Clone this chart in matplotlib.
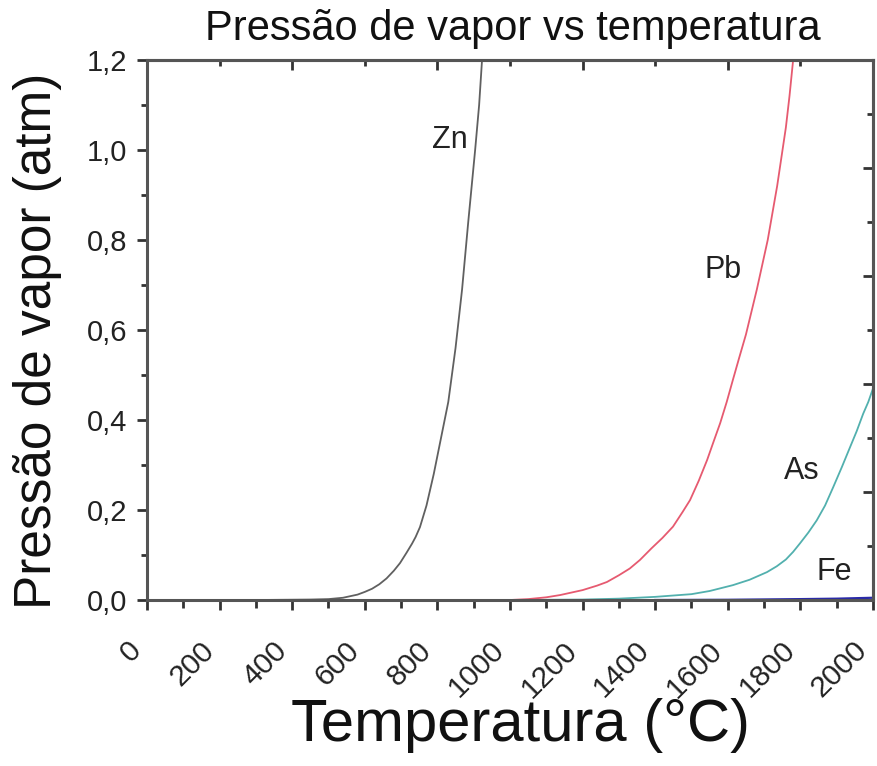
import numpy as np
import matplotlib
matplotlib.use("Agg")
import matplotlib.pyplot as plt
from matplotlib.ticker import MultipleLocator, FuncFormatter

plt.rcParams['font.family'] = ['Liberation Sans', 'DejaVu Sans']

# vapour pressure (atm) vs temperature (C)
zn_t = [0, 300, 450, 500, 540, 580, 600, 620, 640, 660, 680, 697, 715, 730, 740, 752, 770, 790,
        810, 830, 850, 868, 885, 904, 915, 923]
zn_p = [0, 0, 0.001, 0.002, 0.005, 0.012, 0.018, 0.025, 0.035, 0.048, 0.065, 0.082, 0.105, 0.125,
        0.14, 0.162, 0.21, 0.28, 0.36, 0.44, 0.56, 0.69, 0.84, 1.0, 1.1, 1.2]

pb_t = [1000, 1050, 1100, 1138, 1200, 1240, 1267, 1300, 1330, 1358, 1390, 1420, 1449, 1475, 1496,
        1520, 1543, 1560, 1579, 1597, 1614, 1632, 1650, 1665, 1680, 1695, 1710, 1723, 1736, 1748,
        1760, 1770, 1780]
pb_p = [0, 0.002, 0.006, 0.011, 0.022, 0.032, 0.04, 0.055, 0.07, 0.089, 0.115, 0.138, 0.163, 0.195,
        0.222, 0.265, 0.311, 0.35, 0.393, 0.44, 0.489, 0.54, 0.59, 0.64, 0.69, 0.745, 0.80, 0.86,
        0.92, 0.985, 1.05, 1.12, 1.2]

as_t = [0, 1000, 1200, 1300, 1400, 1450, 1500, 1550, 1614, 1660, 1708, 1735, 1760, 1780, 1799,
        1822, 1845, 1868, 1890, 1914, 1937, 1955, 1973, 1987, 2000]
as_p = [0, 0, 0.001, 0.003, 0.007, 0.01, 0.013, 0.02, 0.033, 0.045, 0.062, 0.075, 0.09, 0.107,
        0.126, 0.15, 0.177, 0.21, 0.25, 0.295, 0.34, 0.375, 0.414, 0.44, 0.47]

fe_t = [1400, 1600, 1800, 1900, 2000]
fe_p = [0, 0.0005, 0.002, 0.003, 0.005]

labels = ['Zn', 'Pb', 'As', 'Fe']
label_pos = [(835, 1.022), (1587, 0.733), (1804, 0.287), (1893, 0.062)]

spine_col = '#555555'

fig = plt.figure(figsize=(8.78, 7.66), dpi=100)
ax = fig.add_axes([0.1674, 0.2167, 0.8269, 0.705])

ax.plot(as_t, as_p, color='#52b0ae', lw=1.3)
ax.plot(zn_t, zn_p, color='#606060', lw=1.3)
ax.plot(pb_t, pb_p, color='#e65a70', lw=1.3)
ax.plot(fe_t, fe_p, color='#2a2aa8', lw=1.6)

for lab, (x, y) in zip(labels, label_pos):
    ax.text(x, y, lab, fontsize=22, ha='center', va='center', color='#222222')

ax.set_xlim(0, 2000)
ax.set_ylim(0, 1.2)
ax.xaxis.set_major_locator(MultipleLocator(200))
ax.xaxis.set_minor_locator(MultipleLocator(100))
ax.yaxis.set_major_locator(MultipleLocator(0.2))
ax.yaxis.set_minor_locator(MultipleLocator(0.1))
ax.yaxis.set_major_formatter(FuncFormatter(lambda v, p: ('%.1f' % v).replace('.', ',')))

ax.tick_params(which='both', direction='out', width=2, color='#333333', labelcolor='#222222')
ax.tick_params(which='major', length=7)
ax.tick_params(axis='y', which='minor', length=4)
ax.tick_params(axis='x', which='minor', length=6)
ax.tick_params(axis='y', pad=7, labelsize=21)
ax.tick_params(axis='x', pad=19, labelsize=21.5)
for lbl in ax.get_xticklabels():
    lbl.set_rotation(45)
    lbl.set_ha('right')
    lbl.set_va('top')

for s in ax.spines.values():
    s.set_color(spine_col)
    s.set_linewidth(2.2)

# mirrored ticks on top and right
top = ax.secondary_xaxis('top')
top.xaxis.set_major_locator(MultipleLocator(400))
top.xaxis.set_minor_locator(MultipleLocator(200))
top.tick_params(which='both', direction='in', width=2, color='#333333', labeltop=False)
top.tick_params(which='major', length=7)
top.tick_params(which='minor', length=4)
top.spines['top'].set_color(spine_col)
top.spines['top'].set_linewidth(2.2)

right = ax.secondary_yaxis('right')
right.yaxis.set_major_locator(MultipleLocator(0.24))
right.yaxis.set_minor_locator(MultipleLocator(0.12))
right.tick_params(which='both', direction='in', width=2, color='#333333', labelright=False)
right.tick_params(which='major', length=7)
right.tick_params(which='minor', length=4)
right.spines['right'].set_color(spine_col)
right.spines['right'].set_linewidth(2.2)

fig.text(0.584, 0.962, 'Pressão de vapor vs temperatura', fontsize=30,
         ha='center', va='center', color='#111111')
fig.text(0.593, 0.053, 'Temperatura (°C)', fontsize=43, ha='center', va='center', color='#111111')
fig.text(0.043, 0.555, 'Pressão de vapor (atm)', fontsize=37, ha='center', va='center',
         rotation=90, color='#111111')

fig.savefig('out.png', dpi=100)
